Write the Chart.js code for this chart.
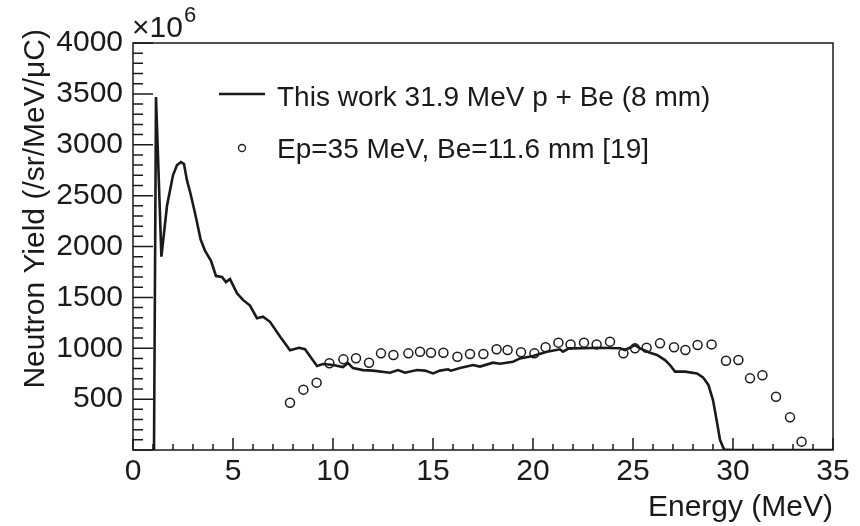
<!DOCTYPE html>
<html>
<head>
<meta charset="utf-8">
<script src="https://cdn.jsdelivr.net/npm/chart.js@4.4.1/dist/chart.umd.min.js"></script>
<style>
  html, body { margin: 0; padding: 0; background: #fff; }
  #wrap { width: 860px; height: 526px; position: relative; }
</style>
</head>
<body>
<div id="wrap"><canvas id="c"></canvas></div>
<script>
// this work: simulated spectrum (MeV, yield in 1e6 /sr/MeV/uC)
const lineE = [1.05, 1.15, 1.42, 1.7, 2.0, 2.2, 2.4, 2.55, 2.7, 2.85, 3.1, 3.38, 3.6, 3.9, 4.15, 4.45, 4.65, 4.85,
  5.2, 5.5, 5.85, 6.2, 6.5, 6.85, 7.35, 7.85, 8.3, 8.6, 9.2, 9.5, 10.0, 10.5, 10.75, 11.0, 11.5, 12.0, 12.85,
  13.25, 13.6, 14.2, 14.6, 15.0, 15.35, 15.75, 15.9, 16.35, 17.0, 17.35, 18.0, 18.35, 19.0, 19.35, 20.0, 20.7,
  21.35, 21.5, 21.8, 22.5, 23.3, 24.35, 24.6, 25.1, 25.35, 25.85, 26.2, 26.6, 26.85, 27.1, 27.6, 28.2, 28.5,
  28.77, 29.0, 29.18, 29.35, 29.55, 30.0, 35.0];
const lineY = [0, 3470, 1900, 2400, 2700, 2800, 2830, 2810, 2650, 2540, 2330, 2070, 1960, 1860, 1710, 1700, 1650, 1680,
  1540, 1475, 1420, 1295, 1310, 1260, 1115, 980, 1005, 990, 825, 845, 835, 815, 855, 805, 785, 780, 760,
  786, 760, 786, 780, 753, 780, 793, 780, 805, 835, 820, 858, 848, 868, 900, 924, 966,
  990, 966, 999, 1000, 1005, 1000, 983, 1030, 999, 956, 934, 884, 835, 770, 770, 753, 714,
  640, 490, 295, 100, 5, 0, 0];

// Ep=35 MeV, Be=11.6 mm [19]
const refE = [7.85, 8.52, 9.18, 9.82, 10.52, 11.15, 11.8, 12.4, 13.02, 13.77, 14.35, 14.9, 15.52, 16.22, 16.85,
  17.52, 18.18, 18.73, 19.4, 20.07, 20.63, 21.27, 21.88, 22.55, 23.18, 23.85, 24.52, 25.1, 25.68, 26.35,
  27.05, 27.62, 28.23, 28.93, 29.65, 30.27, 30.85, 31.47, 32.15, 32.85, 33.43];
const refY = [465, 593, 662, 852, 891, 901, 858, 950, 934, 950, 966, 956, 956, 917, 943,
  943, 990, 983, 960, 950, 1009, 1055, 1038, 1055, 1038, 1065, 950, 999, 1005, 1048,
  1009, 983, 1032, 1038, 878, 884, 704, 734, 524, 321, 82];

const seriesNames = ['This work 31.9 MeV p + Be (8 mm)', 'Ep=35 MeV, Be=11.6 mm [19]'];
const xTicks = [0, 5, 10, 15, 20, 25, 30, 35];
const yTicks = [500, 1000, 1500, 2000, 2500, 3000, 3500, 4000];

const FONT = 'Liberation Sans, Arial, Helvetica, sans-serif';
const INK = '#1a1a1a';

const framePlugin = {
  id: 'frame',
  afterDraw(chart) {
    const ctx = chart.ctx;
    const a = chart.chartArea;
    const xs = chart.scales.x, ys = chart.scales.y;
    ctx.save();
    ctx.strokeStyle = INK;
    ctx.lineWidth = 1.5;
    ctx.strokeRect(a.left, a.top, a.right - a.left, a.bottom - a.top);
    // inner ticks, ROOT style
    ctx.beginPath();
    for (let v = 0; v <= 35; v++) {
      const px = xs.getPixelForValue(v);
      const len = v % 5 === 0 ? 12 : 6;
      ctx.moveTo(px, a.bottom); ctx.lineTo(px, a.bottom - len);
    }
    for (let v = 0; v <= 4000; v += 100) {
      const py = ys.getPixelForValue(v);
      const len = v % 500 === 0 ? 20 : 10;
      ctx.moveTo(a.left, py); ctx.lineTo(a.left + len, py);
    }
    ctx.stroke();

    ctx.fillStyle = INK;
    ctx.textBaseline = 'alphabetic';

    // y title, right aligned to the top like ROOT
    ctx.save();
    ctx.translate(44, 29);
    ctx.rotate(-Math.PI / 2);
    ctx.textAlign = 'right';
    ctx.font = '30px ' + FONT;
    ctx.fillText('Neutron Yield (/sr/MeV/\u03bcC)', 0, 0);
    ctx.restore();

    // exponent
    ctx.textAlign = 'left';
    ctx.font = '30px ' + FONT;
    ctx.fillText('\u00d710', a.left - 1, 37);
    const w = ctx.measureText('\u00d710').width;
    ctx.font = '22px ' + FONT;
    ctx.fillText('6', a.left + w, 22);

    // legend
    const ds = chart.data.datasets;
    ctx.font = '28px ' + FONT;
    ctx.strokeStyle = ds[0].borderColor;
    ctx.lineWidth = ds[0].borderWidth;
    ctx.beginPath(); ctx.moveTo(219, 94); ctx.lineTo(265, 94); ctx.stroke();
    ctx.fillText(ds[0].label, 277, 106);
    ctx.strokeStyle = ds[1].pointBorderColor;
    ctx.lineWidth = 1.3;
    ctx.beginPath(); ctx.arc(242, 148, 3.5, 0, Math.PI * 2); ctx.stroke();
    ctx.fillText(ds[1].label, 277, 158);
    ctx.restore();
  }
};

new Chart(document.getElementById('c'), {
  type: 'line',
  data: {
    datasets: [
      {
        label: seriesNames[0],
        data: lineE.map((e, i) => ({ x: e, y: lineY[i] })),
        borderColor: INK, borderWidth: 2.6, pointRadius: 0, tension: 0, fill: false
      },
      {
        label: seriesNames[1],
        data: refE.map((e, i) => ({ x: e, y: refY[i] })),
        showLine: false, pointRadius: 4.5, pointStyle: 'circle',
        pointBorderColor: INK, pointBackgroundColor: 'rgba(255,255,255,0)', pointBorderWidth: 1.5
      }
    ]
  },
  options: {
    responsive: true,
    maintainAspectRatio: false,
    animation: false,
    layout: { padding: { left: 0, right: 27, top: 43, bottom: 0 } },
    plugins: { legend: { display: false }, tooltip: { enabled: false } },
    scales: {
      x: {
        type: 'linear', min: 0, max: 35,
        afterFit(s) { s.height = 76; },
        afterBuildTicks(s) { s.ticks = xTicks.map(v => ({ value: v })); },
        grid: { display: false, drawTicks: false },
        border: { display: false },
        ticks: { color: INK, font: { family: FONT, size: 30 }, padding: 4, maxRotation: 0, autoSkip: false,
                 callback: v => String(v) },
        title: { display: true, text: 'Energy (MeV)', align: 'end', color: INK,
                 font: { family: FONT, size: 30 }, padding: { top: 0, bottom: 0 } }
      },
      y: {
        min: 0, max: 4000,
        afterFit(s) { s.width = 133; },
        afterBuildTicks(s) { s.ticks = yTicks.map(v => ({ value: v })); },
        grid: { display: false, drawTicks: false },
        border: { display: false },
        ticks: { color: INK, font: { family: FONT, size: 30 }, padding: 10, autoSkip: false,
                 callback: v => String(v) },
        title: { display: false }
      }
    }
  },
  plugins: [framePlugin]
});
</script>
</body>
</html>
